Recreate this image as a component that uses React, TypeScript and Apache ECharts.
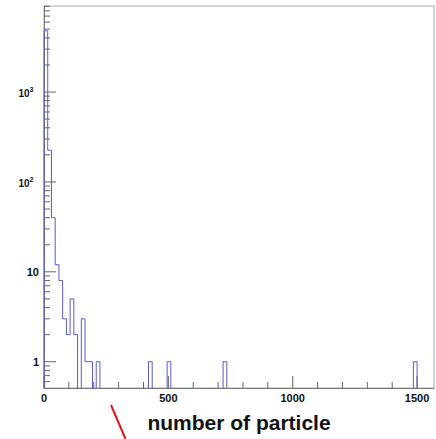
import { useEffect, useRef } from "react";
import * as echarts from "echarts";

// ---- data ----
const binWidth = 15;
const lowBinCounts = [4800, 225, 40, 12, 8, 3, 2, 5, 2, 0, 3, 1, 1, 0, 1];
const isolatedBinStarts = [420, 495, 720, 1485];
const isolatedBinCounts = [1, 1, 1, 1];
const nBins = 100;

const xMin = 0;
const xMax = 1568;
const yMin = 0.51;
const yMax = 9060;

const xMajorTicks = [0, 500, 1000, 1500];
const xMajorLabels = ["0", "500", "1000", "1500"];
const xMinorTicks = [100, 200, 300, 400, 600, 700, 800, 900, 1100, 1200, 1300, 1400];
const yMajorTicks = [1, 10, 100, 1000];
const yLabelBase = ["1", "10", "10", "10"];
const yLabelExp = ["", "", "2", "3"];
const yMinorTicks = [
  0.6, 0.7, 0.8, 0.9,
  2, 3, 4, 5, 6, 7, 8, 9,
  20, 30, 40, 50, 60, 70, 80, 90,
  200, 300, 400, 500, 600, 700, 800, 900,
  2000, 3000, 4000, 5000, 6000, 7000, 8000, 9000,
];

const axisTitle = "number of particle";

const FONT = "'Liberation Sans', Arial, Helvetica, sans-serif";
const HIST_COLOR = "#5a5ad2";
const TICK_COLOR = "#666";

function buildCounts(): number[] {
  const counts: number[] = new Array(nBins).fill(0);
  lowBinCounts.forEach((c, i) => (counts[i] = c));
  isolatedBinStarts.forEach((s, k) => {
    counts[Math.round(s / binWidth)] = isolatedBinCounts[k];
  });
  return counts;
}

export default function App() {
  const ref = useRef<HTMLDivElement>(null);

  useEffect(() => {
    if (!ref.current) return;
    const chart = echarts.init(ref.current, undefined, { renderer: "svg" });
    const counts = buildCounts();
    const histData: number[][] = [];
    counts.forEach((c, i) => {
      if (c > 0) {
        histData.push([i * binWidth, c, i > 0 ? counts[i - 1] : 0, i < nBins - 1 ? counts[i + 1] : 0]);
      }
    });

    const option: any = {
      animation: false,
      backgroundColor: "#fff",
      grid: {
        left: 44,
        right: 2,
        top: 6,
        bottom: 51,
        show: true,
        borderColor: "#aaa",
        borderWidth: 1,
        backgroundColor: "transparent",
      },
      xAxis: {
        type: "value",
        min: xMin,
        max: xMax,
        axisLine: { show: true, onZero: false, lineStyle: { color: "#777", width: 1 } },
        axisTick: { show: false },
        axisLabel: { show: false },
        splitLine: { show: false },
        name: axisTitle,
        nameLocation: "middle",
        nameGap: 24,
        nameTextStyle: {
          fontFamily: FONT,
          fontWeight: "bold",
          fontSize: 21,
          color: "#111",
        },
      },
      yAxis: {
        type: "log",
        logBase: 10,
        min: yMin,
        max: yMax,
        axisLine: { show: true, onZero: false, lineStyle: { color: "#777", width: 1 } },
        axisTick: { show: false },
        axisLabel: { show: false },
        splitLine: { show: false },
      },
      graphic: [
        {
          type: "line",
          shape: { x1: 111, y1: 405, x2: 125.5, y2: 439 },
          style: { stroke: "#e8141c", lineWidth: 2 },
        },
      ],
      series: [
        {
          type: "custom",
          name: "axes",
          coordinateSystem: "cartesian2d",
          clip: false,
          silent: true,
          data: [[1, 1]],
          renderItem: (_params: any, api: any) => {
            const children: any[] = [];
            const [ox, oy] = api.coord([xMin, yMin]);
            xMajorTicks.forEach((t, i) => {
              const [px] = api.coord([t, yMin]);
              children.push({
                type: "line",
                shape: { x1: px, y1: oy, x2: px, y2: oy - 12 },
                style: { stroke: TICK_COLOR, lineWidth: 1 },
              });
              children.push({
                type: "text",
                style: {
                  text: xMajorLabels[i],
                  x: px,
                  y: oy + 9.5,
                  align: "center",
                  verticalAlign: "middle",
                  font: `bold 11px ${FONT}`,
                  fill: "#111",
                },
              });
            });
            xMinorTicks.forEach((t) => {
              const [px] = api.coord([t, yMin]);
              children.push({
                type: "line",
                shape: { x1: px, y1: oy, x2: px, y2: oy - 6 },
                style: { stroke: TICK_COLOR, lineWidth: 1 },
              });
            });
            yMajorTicks.forEach((t, i) => {
              const [, py] = api.coord([xMin, t]);
              children.push({
                type: "line",
                shape: { x1: ox, y1: py, x2: ox + 12, y2: py },
                style: { stroke: TICK_COLOR, lineWidth: 1 },
              });
              if (yLabelExp[i]) {
                children.push({
                  type: "text",
                  style: {
                    text: yLabelBase[i],
                    x: ox - 14.5,
                    y: py + 1.5,
                    align: "right",
                    verticalAlign: "middle",
                    font: `bold 10px ${FONT}`,
                    fill: "#111",
                  },
                });
                children.push({
                  type: "text",
                  style: {
                    text: yLabelExp[i],
                    x: ox - 14.5,
                    y: py - 2.5,
                    align: "left",
                    verticalAlign: "middle",
                    font: `bold 7px ${FONT}`,
                    fill: "#111",
                  },
                });
              } else {
                children.push({
                  type: "text",
                  style: {
                    text: yLabelBase[i],
                    x: ox - 5,
                    y: py,
                    align: "right",
                    verticalAlign: "middle",
                    font: `bold 11px ${FONT}`,
                    fill: "#111",
                  },
                });
              }
            });
            yMinorTicks.forEach((t) => {
              const [, py] = api.coord([xMin, t]);
              children.push({
                type: "line",
                shape: { x1: ox, y1: py, x2: ox + 6, y2: py },
                style: { stroke: TICK_COLOR, lineWidth: 1 },
              });
            });
            return { type: "group", children };
          },
          z: 3,
        },
        {
          type: "custom",
          name: "histogram",
          coordinateSystem: "cartesian2d",
          clip: false,
          silent: true,
          dimensions: ["x", "count", "prev", "next"],
          encode: { x: 0, y: 1 },
          data: histData,
          renderItem: (_params: any, api: any) => {
            const x0 = api.value(0);
            const c = api.value(1);
            const p = api.value(2);
            const n = api.value(3);
            const pts = [
              api.coord([x0, p > 0 ? p : yMin]),
              api.coord([x0, c]),
              api.coord([x0 + binWidth, c]),
            ];
            if (!(n > 0)) pts.push(api.coord([x0 + binWidth, yMin]));
            return {
              type: "polyline",
              shape: { points: pts },
              style: { stroke: HIST_COLOR, fill: "none", lineWidth: 1 },
            };
          },
          z: 4,
        },
      ],
    };

    chart.setOption(option);
    return () => chart.dispose();
  }, []);

  return (
    <div
      ref={ref}
      style={{ position: "fixed", left: 0, top: 0, width: 436, height: 439 }}
    />
  );
}
